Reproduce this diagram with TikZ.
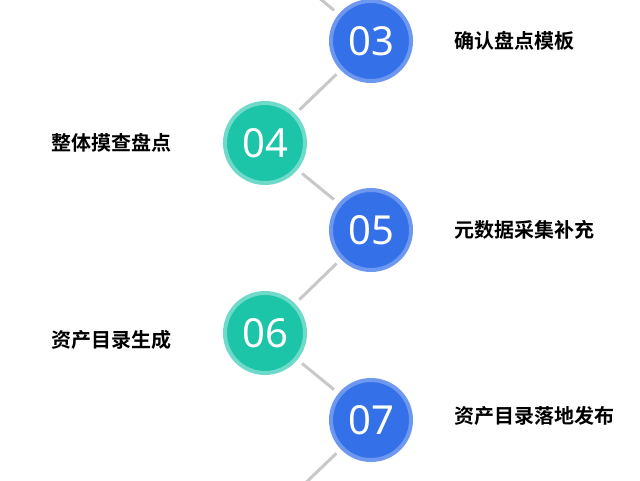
\documentclass[tikz,border=0pt]{standalone}
\usepackage{fontspec}
\newfontfamily\cjk{Noto Sans CJK SC}[BoldFont=* Bold]
\newfontfamily\num{Noto Sans}
\definecolor{bl}{HTML}{3470E8}
\definecolor{blr}{HTML}{6E98F0}
\definecolor{tl}{HTML}{1CC4A8}
\definecolor{tlr}{HTML}{70DACA}
\definecolor{ln}{HTML}{C8C8C8}
\begin{document}
\begin{tikzpicture}[x=1pt,y=-1pt,
 blue/.style={circle,fill=bl,draw=blr,line width=4pt,minimum size=80pt,inner sep=0pt,text=white,font=\num\fontsize{40}{40}\selectfont},
 teal/.style={blue,fill=tl,draw=tlr},
 lab/.style={font=\cjk\bfseries\fontsize{20}{20}\selectfont,text=black},
 conn/.style={draw=ln,line width=3pt,shorten >=6pt,shorten <=6pt}]
\useasboundingbox (0,0) rectangle (640,480);
\coordinate (p) at (265,-47);
\coordinate (q) at (265,522);
\node[blue] (n3) at (371,41) {03};
\node[teal] (n4) at (265,143) {04};
\node[blue] (n5) at (371,230) {05};
\node[teal] (n6) at (265,333) {06};
\node[blue] (n7) at (371,420) {07};
\draw[conn,shorten <=0pt] (p) -- (n3);
\draw[conn] (n3) -- (n4);
\draw[conn] (n4) -- (n5);
\draw[conn] (n5) -- (n6);
\draw[conn] (n6) -- (n7);
\draw[conn,shorten >=0pt] (n7) -- (q);
\node[lab,anchor=west] (t3) at (451,41) {确认盘点模板};
\node[lab,anchor=east] (t4) at (175,143) {整体摸查盘点};
\node[lab,anchor=west] (t5) at (451,230) {元数据采集补充};
\node[lab,anchor=east] (t6) at (175,340) {资产目录生成};
\node[lab,anchor=west] (t7) at (451,416) {资产目录落地发布};
\end{tikzpicture}
\end{document}
